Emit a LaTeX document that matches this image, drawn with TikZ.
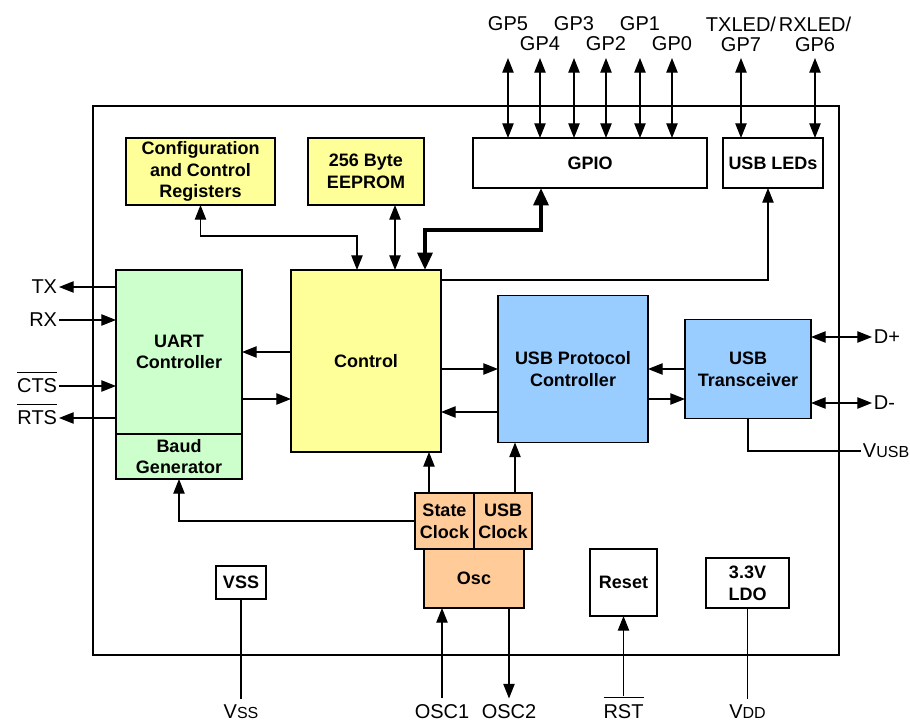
\documentclass[tikz,border=0pt]{standalone}
\usepackage{fontspec}
\setmainfont{Liberation Sans}
\usepackage{tikz}
\usetikzlibrary{arrows.meta, positioning, calc}
\definecolor{BlockYellow}{RGB}{255,255,153}
\definecolor{BlockGreen}{RGB}{204,255,204}
\definecolor{BlockBlue}{RGB}{153,204,255}
\definecolor{BlockOrange}{RGB}{255,204,153}
\newsavebox{\lowbox}
\newcommand{\activelow}[1]{\sbox{\lowbox}{#1}\smash{\rlap{\rule[\dimexpr\ht\lowbox+4.5pt\relax]{\wd\lowbox}{0.8pt}}}\usebox{\lowbox}}
\newcommand{\subcap}[1]{{\fontsize{12}{12}\selectfont #1}}

\begin{document}
\begin{tikzpicture}[
    x=0.75pt, y=-0.75pt, line width=0.9pt,
    block/.style={rectangle, draw, outer sep=0pt, inner sep=1pt, align=center, font=\fontsize{13.5}{16.3}\selectfont\bfseries},
    pin/.style={inner sep=1pt, align=center, font=\fontsize{15}{15}\selectfont},
    arrow/.style={-{Triangle[length=11pt, width=8.5pt]}},
    dbl/.style={{Triangle[length=11pt, width=8.5pt]}-{Triangle[length=11pt, width=8.5pt]}},
    bus/.style={{Triangle[length=13pt, width=11pt]}-{Triangle[length=13pt, width=11pt]}, line width=3pt}
]
\useasboundingbox (0,0) rectangle (910,722);
\node[draw, inner sep=0pt, minimum width=559.5pt, minimum height=411.75pt] (chip) at (466,380.5) {};

\node[block, fill=BlockYellow, minimum width=111.75pt, minimum height=50.25pt] (cfgRegs) at (200.5,171.5) {Configuration\\and Control\\Registers};
\node[block, fill=BlockYellow, minimum width=87pt, minimum height=50.25pt] (eeprom) at (366,171.5) {256 Byte\\EEPROM};
\node[block, minimum width=175.5pt, minimum height=37.5pt] (gpio) at (590,163) {GPIO};
\node[block, minimum width=75pt, minimum height=37.5pt] (usbLeds) at (773,163) {USB LEDs};
\node[block, fill=BlockGreen, minimum width=94.5pt, minimum height=123pt] (uart) at (179,352) {UART\\Controller};
\node[block, fill=BlockGreen, minimum width=94.5pt, minimum height=33.75pt, below=0pt of uart] (baud) {Baud\\Generator};
\node[block, fill=BlockYellow, minimum width=112.5pt, minimum height=136.5pt] (control) at (366,361) {Control};
\node[block, fill=BlockBlue, minimum width=112.5pt, minimum height=110.25pt] (usbProto) at (573,369) {USB Protocol\\Controller};
\node[block, fill=BlockBlue, minimum width=94.5pt, minimum height=74.25pt] (usbXcvr) at (748,369) {USB\\Transceiver};
\node[block, fill=BlockOrange, minimum width=44.25pt, minimum height=42pt] (stateClk) at (444.5,521) {State\\Clock};
\node[block, fill=BlockOrange, minimum width=43.5pt, minimum height=42pt, right=0pt of stateClk] (usbClk) {USB\\Clock};
\node[block, fill=BlockOrange, minimum width=75pt, minimum height=44.25pt, below=0pt of stateClk.south east] (osc) {Osc};
\node[block, minimum width=37.5pt, minimum height=24.75pt] (vssBox) at (241,582.5) {VSS};
\node[block, minimum width=50.25pt, minimum height=50.25pt] (reset) at (623.5,582.5) {Reset};
\node[block, minimum width=62.25pt, minimum height=37.5pt] (ldo) at (747.5,583) {3.3V\\LDO};

\coordinate (pinTop) at (0,58);
\foreach \n/\x/\y in {5/508/24, 4/540/44, 3/574/24, 2/606/44, 1/640/24, 0/672/44} {
    \node[pin] (gp\n) at (\x,\y) {GP\n};
    \draw[dbl] (pinTop -| gp\n) -- (gpio.north -| gp\n);
}
\node[pin] (txLed) at (741,34) {TXLED/\\GP7};
\node[pin] (rxLed) at (815,34) {RXLED/\\GP6};
\draw[dbl] (pinTop -| txLed) -- (usbLeds.north -| txLed);
\draw[dbl] (pinTop -| rxLed) -- (usbLeds.north -| rxLed);

\node[pin, anchor=east] (pinTX) at (59,287) {TX};
\node[pin, anchor=east] (pinRX) at (59,320) {RX};
\node[pin, anchor=east] (pinCTS) at (59,386) {\activelow{CTS}};
\node[pin, anchor=east] (pinRTS) at (59,418) {\activelow{RTS}};
\draw[arrow] (uart.west |- pinTX) -- (pinTX);
\draw[arrow] (pinRX) -- (uart.west |- pinRX);
\draw[arrow] (pinCTS) -- (uart.west |- pinCTS);
\draw[arrow] (uart.west |- pinRTS) -- (pinRTS);

\node[pin, anchor=west] (pinDp) at (872,337) {D+};
\node[pin, anchor=west] (pinDm) at (872,403) {D-};
\node[pin, anchor=west] (pinVusb) at (861,451) {V\subcap{USB}};
\draw[dbl] (usbXcvr.east |- pinDp) -- (pinDp);
\draw[dbl] (usbXcvr.east |- pinDm) -- (pinDm);
\draw (usbXcvr.south) |- (pinVusb);

\node[pin] (pinVss) at (241,711.5) {V\subcap{SS}};
\node[pin] (pinOsc1) at (442,711.5) {OSC1};
\node[pin] (pinOsc2) at (509,711.5) {OSC2};
\node[pin] (pinRst) at (623.5,711.5) {\activelow{RST}};
\node[pin] (pinVdd) at (747.5,711.5) {V\subcap{DD}};
\draw[shorten >=3pt] (vssBox) -- (pinVss);
\draw[arrow, shorten <=3pt] (pinOsc1) -- (pinOsc1 |- osc.south);
\draw[arrow, shorten >=3pt] (pinOsc2 |- osc.south) -- (pinOsc2);
\draw[arrow, shorten <=4.5pt] (pinRst) -- (reset);
\draw[shorten >=3pt] (ldo) -- (pinVdd);

\draw[dbl] (cfgRegs.south) -- ++(0,31) -| ($(control.north)+(-9,0)$);
\draw[dbl] ($(eeprom.south)+(29,0)$) -- ($(control.north)+(29,0)$);
\draw[bus] ($(control.north)+(59,0)$) -- ++(0,-40) -| ($(gpio.south)+(-49,0)$);
\draw[arrow] ($(control.north east)+(0,10)$) -| ($(usbLeds.south)+(-5,0)$);

\draw[arrow] (control.west |- uart.east) -- (uart.east);
\draw[arrow] ($(uart.east)+(0,47)$) -- ($(control.west)+(0,38)$);
\draw[arrow] ($(control.east)+(0,8)$) -- (usbProto.west);
\draw[arrow] ($(usbProto.west)+(0,43)$) -- ($(control.east)+(0,51)$);
\draw[arrow] (usbXcvr.west) -- (usbProto.east);
\draw[arrow] ($(usbProto.east)+(0,30)$) -- ($(usbXcvr.west)+(0,30)$);

\draw[arrow] ($(stateClk.north)+(-15.5,0)$) -- ($(control.south)+(63,0)$);
\draw[arrow] ($(usbClk.north)+(12,0)$) -- ($(usbProto.south)+(-58,0)$);
\draw[arrow] (stateClk.west) -| (baud.south);
\end{tikzpicture}
\end{document}
